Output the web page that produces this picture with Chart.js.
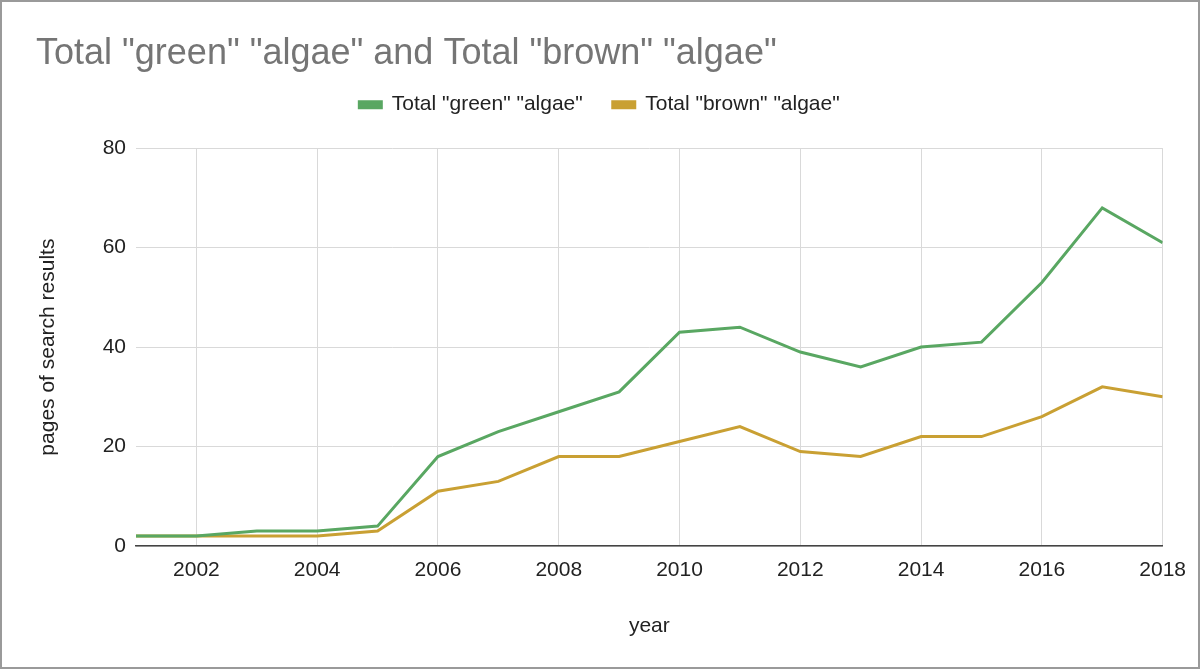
<!DOCTYPE html>
<html><head><meta charset="utf-8">
<script src="https://cdn.jsdelivr.net/npm/chart.js@4"></script>
<style>
html,body{margin:0;padding:0;background:#fff}
#wrap{width:1200px;height:669px;box-sizing:border-box;border:2px solid #9a9a9a;position:relative;background:#fff}
canvas{display:block}
</style></head><body>
<div id="wrap"><canvas id="c" width="1196" height="665"></canvas></div>
<script>
const chartTitle = 'Total "green" "algae" and Total "brown" "algae"';
const seriesNames = ['Total "green" "algae"', 'Total "brown" "algae"'];
const years = [2001,2002,2003,2004,2005,2006,2007,2008,2009,2010,2011,2012,2013,2014,2015,2016,2017,2018];
const greenAlgae = [2,2,3,3,4,18,23,27,31,43,44,39,36,40,41,53,68,61];
const brownAlgae = [2,2,2,2,3,11,13,18,18,21,24,19,18,22,22,26,32,30];
const xTickValues = [2002,2004,2006,2008,2010,2012,2014,2016,2018];
const yTickValues = [0,20,40,60,80];
const xTitle = 'year';
const yTitle = 'pages of search results';

const FONT = 'Arial, "Liberation Sans", Helvetica, sans-serif';

const legendSpacer = {
  id: 'legendSpacer',
  beforeLayout(chart, args, opts) {
    const lg = chart.legend;
    if (lg && !lg.__patched) {
      const orig = lg.fit.bind(lg);
      lg.fit = function() { orig(); this.height += opts.extra || 0; };
      lg.__patched = true;
    }
  }
};

new Chart(document.getElementById('c'), {
  type: 'line',
  data: {
    datasets: [
      { label: seriesNames[0], data: years.map((y,i)=>({x:y, y:greenAlgae[i]})),
        borderColor: '#59a762', backgroundColor: '#59a762', borderWidth: 3, pointRadius: 0, tension: 0 },
      { label: seriesNames[1], data: years.map((y,i)=>({x:y, y:brownAlgae[i]})),
        borderColor: '#c9a033', backgroundColor: '#c9a033', borderWidth: 3, pointRadius: 0, tension: 0 }
    ]
  },
  plugins: [legendSpacer],
  options: {
    responsive: false,
    animation: false,
    devicePixelRatio: 1,
    layout: { padding: { left: 34, right: 35, top: 0, bottom: 0 } },
    plugins: {
      legendSpacer: { extra: 23 },
      tooltip: { enabled: false },
      title: {
        display: true, text: chartTitle, align: 'start', color: '#757575',
        font: { family: FONT, size: 36, weight: 'normal' },
        padding: { top: 30, bottom: -11 }
      },
      legend: {
        display: true, position: 'top', align: 'center',
        labels: {
          boxWidth: 22, boxHeight: 6, padding: 30, color: '#222',
          font: { family: FONT, size: 21 }
        }
      }
    },
    scales: {
      x: {
        type: 'linear', min: 2001, max: 2018,
        afterBuildTicks: (axis) => { axis.ticks = xTickValues.map(v => ({ value: v })); },
        afterFit: (axis) => { axis.height = 121; },
        ticks: { color: '#222', font: { family: FONT, size: 21 }, padding: 12, maxRotation: 0,
                 callback: (v) => String(v) },
        grid: { color: '#d9d9d9', lineWidth: 1, drawTicks: false },
        border: { display: true, color: '#444', width: 1.5 },
        title: { display: true, text: xTitle, color: '#222', font: { family: FONT, size: 21 },
                 padding: { top: 0, bottom: 28 } }
      },
      y: {
        min: 0, max: 80,
        afterBuildTicks: (axis) => { axis.ticks = yTickValues.map(v => ({ value: v })); },
        afterFit: (axis) => { axis.width = 100; },
        ticks: { color: '#222', font: { family: FONT, size: 21 }, padding: 10 },
        grid: { color: '#d9d9d9', lineWidth: 1, drawTicks: false },
        border: { display: false },
        title: { display: true, text: yTitle, color: '#222', font: { family: FONT, size: 21 },
                 padding: { top: 0, bottom: 0 } }
      }
    }
  }
});
</script>
</body></html>
